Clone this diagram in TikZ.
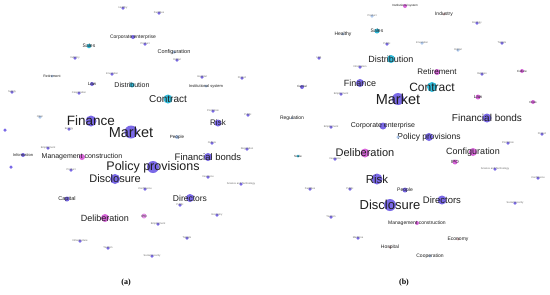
\documentclass[tikz,border=0pt]{standalone}
\usepackage{fontspec}
\newfontfamily\lsans{Liberation Sans}
\newfontfamily\lserif{Liberation Serif}
\usetikzlibrary{backgrounds}
\definecolor{pur}{HTML}{6F5DE6}
\definecolor{cya}{HTML}{22B8DA}
\definecolor{mag}{HTML}{D65AD8}
\definecolor{lbl}{HTML}{A8C4EC}
\definecolor{brn}{HTML}{C9A3A6}
\definecolor{edg}{HTML}{DAD8EE}
\tikzset{
 dot/.style={circle,inner sep=0pt,fill opacity=0.92,draw=none},
 txt/.style={inner sep=0pt,text=black!88},
 tin/.style={inner sep=0pt,text=black!60,font=\lsans\fontsize{2.6}{2.6}\selectfont},
 ed/.style={draw=edg,line width=0.35pt},
 cab/.style={draw=cya!45,line width=0.6pt},
 cbb/.style={draw=cya,line width=0.8pt},
 mgb/.style={draw=mag!85,line width=0.8pt},
 blb/.style={draw=lbl!90!blue,line width=0.6pt},
 captxt/.style={inner sep=0pt,font=\lserif\bfseries\fontsize{8}{8}\selectfont}
}
% big node: name, x, y, diameter, colour, font size, label
\newcommand\nd[7]{\node[dot,fill=#5,minimum size=#4pt] (#1) at (#2,#3) {};
 \node[txt,font=\lsans\fontsize{#6}{#6}\selectfont] (#1-t) at (#2,#3) {#7};}
% small node
\newcommand\sn[5][pur]{\node[dot,fill=#1,minimum size=3.5pt] (#2) at (#3,#4) {};
 \node[tin] (#2-t) at (#3,#4) {#5};}
\begin{document}
\begin{tikzpicture}[x=1pt,y=-1pt]
\useasboundingbox (0,0) rectangle (550,295);
\fill[white] (0,0) rectangle (550,295);
% ---------------- (a) ----------------
\sn{aHea}{123}{8}{Healthy}
\sn{aFac}{159}{13}{Facilities}
\nd{aCorp}{133}{37}{4}{pur}{5}{Corporate enterprise}
\nd{aSales}{89}{46}{4.5}{cya}{5}{Sales}
\sn{aProd}{145}{44}{Product}
\nd{aConf}{174}{52}{3.5}{lbl}{5.5}{Configuration}
\sn{aDig}{177}{60}{Digital}
\sn{aInd}{75}{58}{Industry}
\nd{aRet}{52}{76}{3}{lbl}{3.5}{Retirement}
\sn{aInno}{112}{74}{Innovation}
\sn{aHosp}{202}{77}{Hospital}
\sn{aProj}{242}{78}{Project}
\nd{aLaw}{92}{84}{4}{pur}{4.5}{Law}
\nd{aDist}{132}{85}{5}{cya}{7}{Distribution}
\nd{aInst}{206}{86}{3}{lbl}{4}{Institutional system}
\sn{aSup}{12}{92}{Supply}
\sn{aCoop}{79}{93}{Cooperation}
\nd{aContr}{168}{99}{9}{cya}{10}{Contract}
\sn{aPromo}{213}{111}{Promotion}
\sn{aPub}{248}{115}{Public}
\sn[lbl]{aOpen}{40}{117}{Open}
\nd{aFin}{91}{121}{11}{pur}{13.5}{Finance}
\nd{aRisk}{218}{123}{7}{pur}{8}{Risk}
\sn{aEne}{69}{129}{Energy}
\sn{aEco1}{5}{130}{}
\nd{aMarket}{131}{132}{13}{pur}{14.5}{Market}
\nd{aPeople}{177}{137}{4}{lbl}{4.5}{People}
\sn{aCult}{212}{143}{Culture}
\sn{aEmp}{48}{148}{Employment}
\sn{aReg}{247}{149}{Regulation}
\nd{aInfo}{23}{155}{4}{pur}{4}{Information}
\nd{aMgmt}{82}{157}{6}{mag}{7}{Management construction}
\nd{aFB}{208}{157}{8}{pur}{9.5}{Financial bonds}
\sn{aCri}{11}{167}{}
\nd{aPol}{153}{167}{12}{pur}{12.5}{Policy provisions}
\sn{aProd2}{71}{170}{Product}
\sn{aIns}{208}{177}{Insurance}
\nd{aDisc}{115}{179}{10}{pur}{11}{Disclosure}
\sn{aSci}{241}{184}{Science and Technology}
\sn{aConfe}{145}{189}{Conference}
\nd{aDir}{190}{198}{8}{pur}{8.5}{Directors}
\nd{aCap}{67}{199}{5}{pur}{5.5}{Capital}
\sn{aPubl}{180}{205}{Public}
\sn{aEcon}{217}{215}{Economy}
\nd{aIPO}{144}{216}{5}{mag!70}{3}{IPO}
\nd{aDel}{105}{218}{8}{mag}{9}{Deliberation}
\sn{aEmp2}{158}{224}{Employment}
\sn{aTar}{187}{238}{Targets}
\sn{aInfra}{80}{241}{Infrastructure}
\sn{aTou}{108}{248}{Tourism}
\sn{aSoc}{152}{256}{Social security}
\node[captxt] (capa) at (126,283) {(a)};
% ---------------- (b) ----------------
\nd{bInst}{405}{6}{4}{mag}{3}{Institutional system}
\sn[lbl]{bProd}{372}{16}{Product}
\nd{bInd}{444}{14}{3}{brn}{5}{Industry}
\sn{bEco}{477}{23}{Ecology}
\nd{bSales}{377}{31}{5}{cya}{5}{Sales}
\nd{bHea}{343}{34}{3}{lbl}{5}{Healthy}
\sn[lbl]{bInno}{422}{43}{Innovation}
\sn{bTar}{502}{43}{Targets}
\sn{bPub}{387}{44}{Public}
\sn[lbl]{bDig}{458}{50}{Digital}
\sn{bHub}{319}{58}{Hub}
\nd{bDist}{391}{59}{8}{cya}{9}{Distribution}
\sn{bInfo}{360}{67}{Information}
\nd{bRet}{437}{72}{6}{mag}{8}{Retirement}
\sn{bRel}{482}{74}{Religion}
\nd{bCult}{522}{71}{4}{mag}{3}{Culture}
\nd{bFin}{360}{83}{8}{pur}{9}{Finance}
\nd{bCap}{302}{87}{4}{pur}{3}{Capital}
\nd{bContr}{432}{87}{10}{cya}{12}{Contract}
\sn{bEmp}{341}{94}{Employment}
\nd{bMarket}{398}{99}{12}{pur}{14.5}{Market}
\nd{bLaw}{478}{97}{5}{mag}{4.5}{Law}
\nd{bCri}{533}{102}{4}{mag}{3}{Crisis}
\nd{bReg}{292}{118}{2.5}{lbl}{5}{Regulation}
\nd{bFB}{487}{118}{9}{pur}{10}{Financial bonds}
\sn{bEmp2}{331}{127}{Employment}
\nd{bCorp}{383}{126}{7}{pur}{7}{Corporate enterprise}
\sn{bProj}{542}{134}{Project}
\nd{bPol}{429}{137}{8}{pur}{8.5}{Policy provisions}
\sn[lbl]{bPP}{398}{137}{}
\sn{bPromo}{508}{143}{Promotion}
\nd{bDel}{365}{153}{9}{mag}{11}{Deliberation}
\nd{bConf}{473}{152}{8}{mag}{9}{Configuration}
\nd{bScale}{298}{156}{3}{cya}{3}{Scale}
\sn{bIns}{335}{159}{Insurance}
\nd{bIPO}{455}{162}{5}{mag}{4.5}{IPO}
\sn{bSci}{495}{169}{Science and Technology}
\sn{bConfe}{538}{178}{Conference}
\nd{bRisk}{377}{179}{11}{pur}{11.5}{Risk}
\sn{bFacil}{310}{189}{Facilities}
\sn{bPubl}{350}{189}{Public}
\nd{bPeople}{405}{190}{5}{pur}{5}{People}
\nd{bDir}{442}{200}{9}{pur}{9.5}{Directors}
\sn{bSoc}{515}{203}{Social security}
\nd{bDisc}{390}{205}{12}{pur}{13}{Disclosure}
\sn{bTou}{331}{217}{Tourism}
\nd{bMgmt}{417}{223}{4}{mag}{5}{Management construction}
\sn{bMed}{358}{238}{Medicine}
\nd{bEcon}{458}{239}{3}{brn}{5}{Economy}
\nd{bHosp}{390}{247}{3}{brn}{5}{Hospital}
\nd{bCoop}{430}{256}{3}{lbl}{5}{Cooperation}
\node[captxt] (capb) at (404,283) {(b)};
% ---------------- edges ----------------
\begin{pgfonlayer}{background}
% (a) faint edges
\draw[ed] (aMarket) to[bend left=10] (aFin);
\draw[ed] (aMarket) to[bend left=12] (aPol);
\draw[ed] (aMarket) to[bend right=10] (aDisc);
\draw[ed] (aMarket) to[bend left=10] (aContr);
\draw[ed] (aMarket) to[bend left=15] (aRisk);
\draw[ed] (aMarket) to[bend right=12] (aFB);
\draw[ed] (aPol) to[bend right=12] (aFB);
\draw[ed] (aPol) to[bend left=10] (aDisc);
\draw[ed] (aPol) to[bend left=12] (aDir);
\draw[ed] (aFin) to[bend right=15] (aDisc);
\draw[ed] (aDisc) to[bend right=12] (aDel);
\draw[ed] (aFin) to[bend right=12] (aMgmt);
\draw[ed] (aPol) to[bend left=15] (aDel);
\draw[ed] (aFB) to[bend left=12] (aDir);
\draw[ed] (aFin) to[bend left=20] (aRet);
\draw[ed] (aContr) to[bend right=15] (aConf);
\draw[ed] (aContr) to[bend left=12] (aRisk);
\draw[ed] (aMarket) to[bend left=15] (aLaw);
\draw[ed] (aDisc) to[bend left=10] (aCap);
\draw[ed] (aMgmt) to[bend left=25] (aInfo);
\draw[ed] (aFin) to[bend right=30] (aOpen);
\draw[ed] (aPol) to[bend right=20] (aPeople);
\draw[ed] (aDir) to[bend right=20] (aEcon);
\draw[ed] (aDel) to[bend right=15] (aIPO);
\draw[ed] (aFin) to[bend left=30] (aCoop);
\draw[ed] (aRisk) to[bend right=20] (aPromo);
\draw[ed] (aContr) to[bend left=20] (aFB);
\draw[ed] (aDisc) to[bend right=25] (aDir);
% (a) cyan
\draw[cab] (aSales) to[out=-55,in=185] (aContr);
% (b) faint edges
\draw[ed] (bMarket) to[bend left=10] (bFin);
\draw[ed] (bMarket) to[bend right=10] (bCorp);
\draw[ed] (bMarket) to[bend left=15] (bFB);
\draw[ed] (bCorp) to[bend right=15] (bFB);
\draw[ed] (bFB) to[out=-100,in=-10] (bDisc);
\draw[ed] (bFB) to[bend left=20] (bDir);
\draw[ed] (bConf) to[bend left=20] (bDisc);
\draw[ed] (bCorp) to[bend right=10] (bPol);
\draw[ed] (bDel) to[bend right=10] (bRisk);
\draw[ed] (bRisk) to[bend right=10] (bDisc);
\draw[ed] (bFin) to[bend right=40] (bDel);
\draw[ed] (bRet) to[bend left=25] (bCult);
\draw[ed] (bContr) to[bend left=15] (bFB);
\draw[ed] (bPol) to[bend left=15] (bConf);
\draw[ed] (bFin) to[bend right=25] (bCap);
\draw[ed] (bDisc) to[bend right=20] (bDir);
\draw[ed] (bMarket) to[bend right=30] (bEmp);
\draw[ed] (bDel) to[bend right=30] (bScale);
\draw[ed] (bMarket) to[bend left=20] (bDisc);
% (b) coloured
\draw[cbb] (bSales) to[out=-85,in=160] (bContr);
\draw[blb] (bContr) to[out=-115,in=85] (bDisc);
\draw[mgb] (bLaw) to[out=172,in=62] (bDel);
\draw[draw=mag!45,line width=0.5pt] (bDel) to[bend left=12] (bIPO);
\end{pgfonlayer}
\end{tikzpicture}
\end{document}
